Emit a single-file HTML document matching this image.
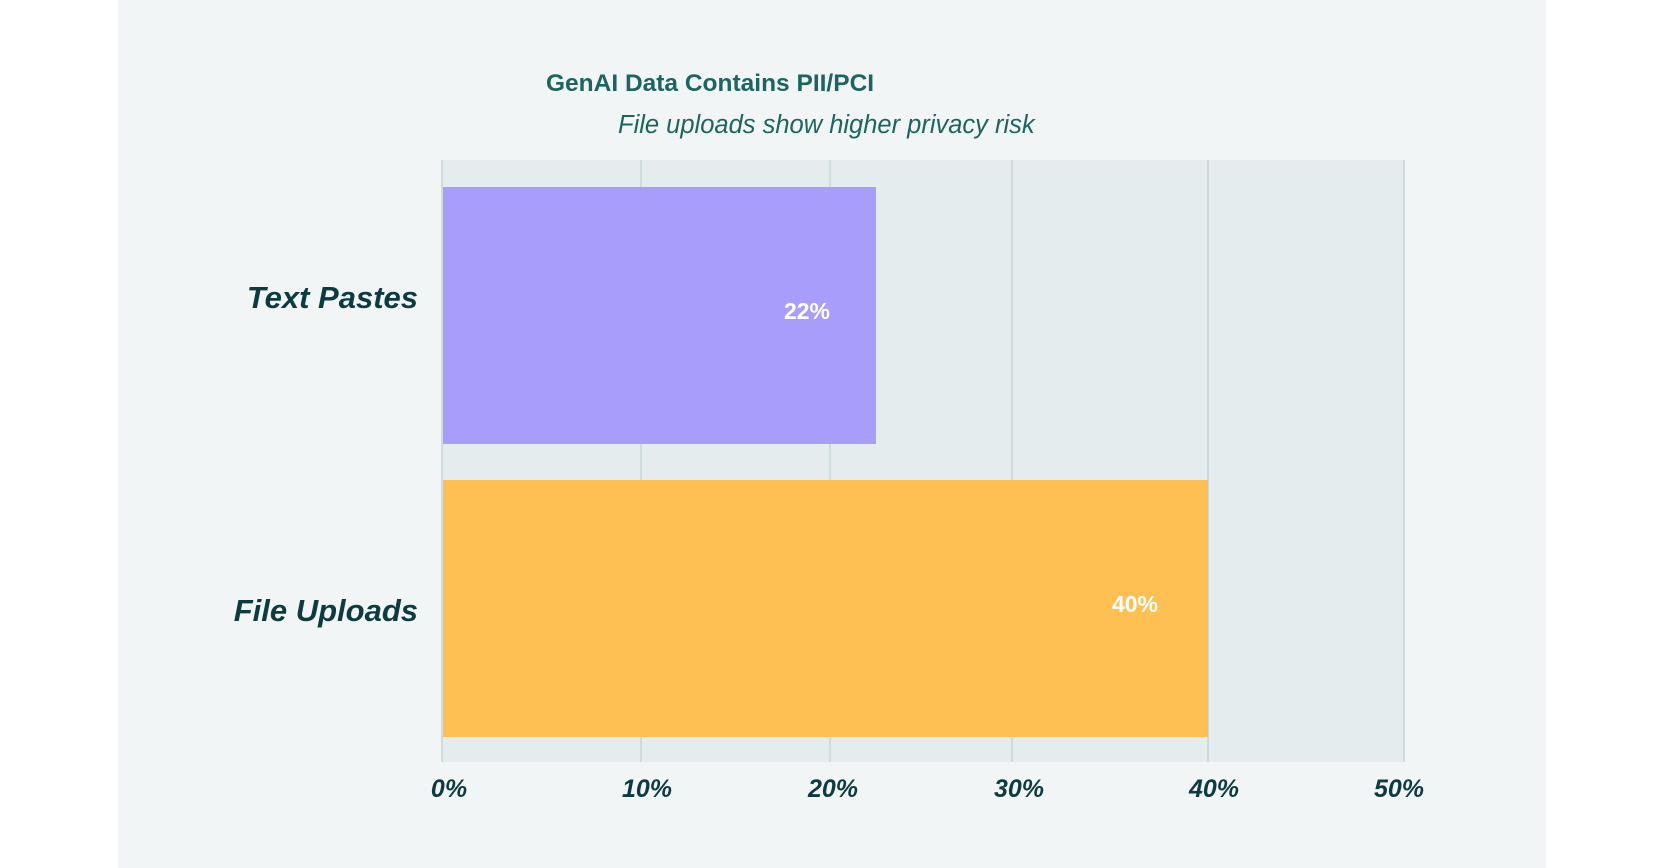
<!DOCTYPE html>
<html><head><meta charset="utf-8"><style>
body{margin:0;width:1660px;height:868px;background:#fff;position:relative;overflow:hidden;font-family:"Liberation Sans",sans-serif}
.a{position:absolute}
</style></head><body>
<div class="a" style="left:118px;top:0;width:1428px;height:868px;background:#f1f5f5"></div>
<div class="a" style="left:442px;top:160px;width:963px;height:602px;background:#e4ecee"></div>
<div class="a" style="left:441px;top:160px;width:2px;height:602px;background:#cfdcdd"></div>
<div class="a" style="left:640px;top:160px;width:2px;height:602px;background:#cfdcdd"></div>
<div class="a" style="left:829px;top:160px;width:2px;height:602px;background:#cfdcdd"></div>
<div class="a" style="left:1011px;top:160px;width:2px;height:602px;background:#cfdcdd"></div>
<div class="a" style="left:1207px;top:160px;width:2px;height:602px;background:#cfdcdd"></div>
<div class="a" style="left:1403px;top:160px;width:2px;height:602px;background:#cfdcdd"></div>
<div class="a" style="left:443px;top:187px;width:433px;height:257px;background:#a99dfc"></div>
<div class="a" style="left:443px;top:480px;width:765px;height:257px;background:#fec052"></div>
<div class="a" style="left:767px;top:298px;width:80px;text-align:center;color:#fff;font-weight:bold;font-size:23px">22%</div>
<div class="a" style="left:1095px;top:591px;width:80px;text-align:center;color:#fff;font-weight:bold;font-size:23px">40%</div>
<div class="a" style="left:546px;top:70px;color:#1e6460;font-weight:bold;font-size:24.5px">GenAI Data Contains PII/PCI</div>
<div class="a" style="left:618px;top:111px;color:#1e6460;font-style:italic;font-size:25.5px">File uploads show higher privacy risk</div>
<div class="a" style="left:119px;top:280px;width:299px;text-align:right;color:#0d3b40;font-weight:bold;font-style:italic;font-size:31px">Text Pastes</div>
<div class="a" style="left:119px;top:593px;width:299px;text-align:right;color:#0d3b40;font-weight:bold;font-style:italic;font-size:31px">File Uploads</div>
<div class="a" style="top:775px;left:0;width:1660px;color:#0d3b40;font-weight:bold;font-style:italic;font-size:25px">
<span class="a" style="left:409px;width:80px;text-align:center">0%</span>
<span class="a" style="left:607px;width:80px;text-align:center">10%</span>
<span class="a" style="left:793px;width:80px;text-align:center">20%</span>
<span class="a" style="left:979px;width:80px;text-align:center">30%</span>
<span class="a" style="left:1174px;width:80px;text-align:center">40%</span>
<span class="a" style="left:1359px;width:80px;text-align:center">50%</span>
</div>
</body></html>
